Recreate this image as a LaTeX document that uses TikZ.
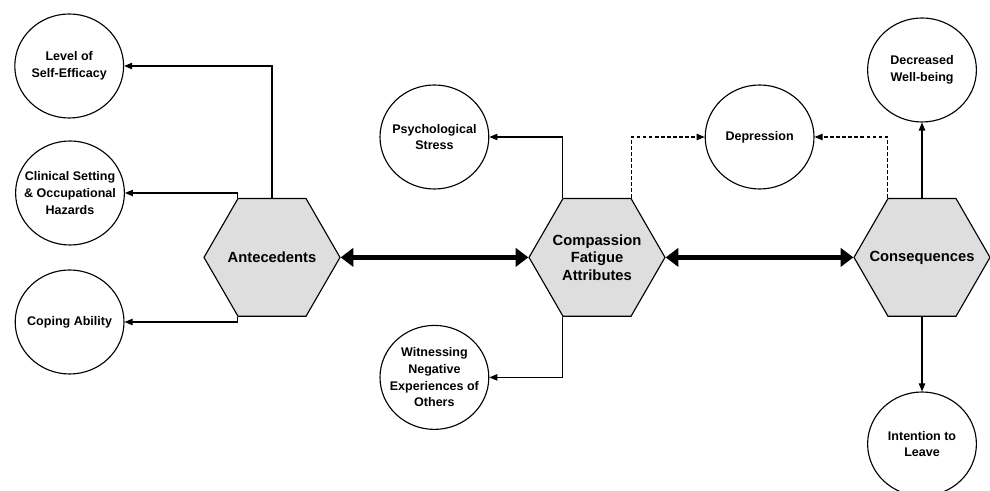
\documentclass[tikz,border=0pt]{standalone}
\usepackage{fontspec}
\setmainfont{Liberation Sans}
\usepackage{tikz}
\usetikzlibrary{arrows.meta,shapes.geometric}
\usepackage{xcolor}

\begin{document}
\begin{tikzpicture}[
  hextext/.style={align=center,inner sep=0pt,font=\fontsize{10.5}{12.5}\selectfont\bfseries},
  bubtext/.style={align=center,inner sep=0pt,font=\fontsize{8.9}{11.8}\selectfont\bfseries},
  hexa/.style={regular polygon,regular polygon sides=6,minimum size=3.4cm,inner sep=0pt,
    draw,line width=0.8pt,fill=black!13,label={[hextext]center:#1}},
  bubble/.style={ellipse,draw,line width=0.8pt,minimum width=2.72cm,minimum height=2.6cm,
    inner sep=0pt,label={[bubtext]center:#1}},
  link/.style={line width=0.8pt,-{Triangle[length=2mm,width=1.6mm]}},
  dlink/.style={link,dash pattern=on 2.5pt off 1.8pt},
  bigarrow/.style={line width=3.5pt,{Triangle[length=3.2mm,width=4.6mm]}-{Triangle[length=3.2mm,width=4.6mm]}}]
  \useasboundingbox (0,0) rectangle (24.75,12.275);
  % main stages
  \node[hexa={Antecedents}] (ant) at (6.8,5.84) {};
  \node[hexa={Compassion\\Fatigue\\Attributes}] (cfa) at (14.925,5.84) {};
  \node[hexa={Consequences}] (con) at (23.05,5.84) {};
  % antecedents
  \node[bubble={Level of\\Self-Efficacy}] (eff) at (1.73,10.625) {};
  \node[bubble={Clinical Setting\\\& Occupational\\Hazards}] (clin) at (1.75,7.45) {};
  \node[bubble={Coping Ability}] (cope) at (1.74,4.225) {};
  % attributes
  \node[bubble={Psychological\\Stress}] (stress) at (10.86,8.85) {};
  \node[bubble={Witnessing\\Negative\\Experiences of\\Others}] (witness) at (10.86,2.84) {};
  \node[bubble={Depression}] (depr) at (18.99,8.85) {};
  % consequences
  \node[bubble={Decreased\\Well-being}] (wellb) at (23.05,10.525) {};
  \node[bubble={Intention to\\Leave}] (leave) at (23.05,1.175) {};

  \draw[bigarrow] (ant.east) -- (cfa.west);
  \draw[bigarrow] (cfa.east) -- (con.west);

  \draw[link] (ant.north) |- (eff.east);
  \draw[link] (ant.120) |- (clin.east);
  \draw[link] (ant.240) |- (cope.east);
  \draw[link] (cfa.120) |- (stress.east);
  \draw[link] (cfa.240) |- (witness.east);
  \draw[dlink] (cfa.60) |- (depr.west);
  \draw[dlink] (con.120) |- (depr.east);
  \draw[link] (con.north) -- (wellb.south);
  \draw[link] (con.south) -- (leave.north);
\end{tikzpicture}
\end{document}
